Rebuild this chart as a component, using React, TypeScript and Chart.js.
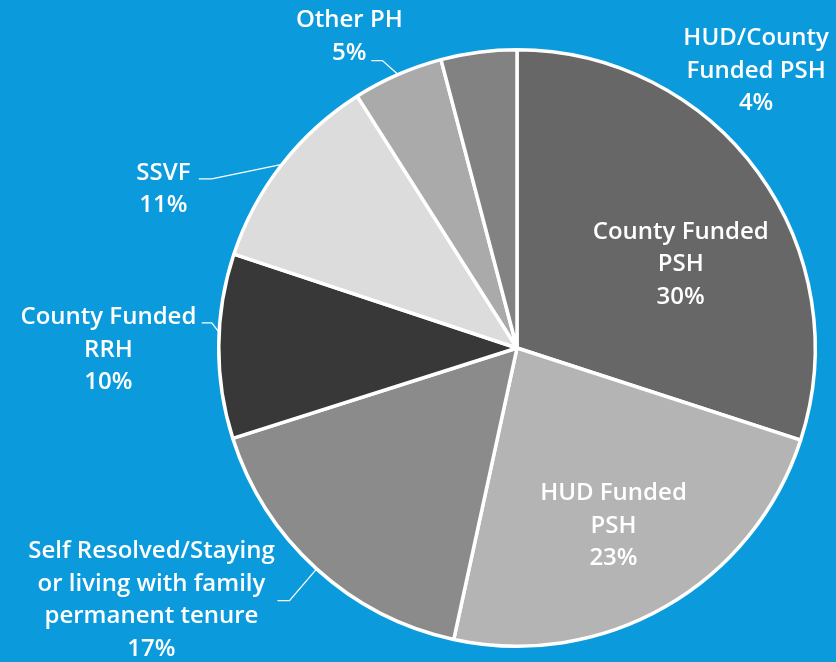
import React, { useEffect, useRef } from "react";
import { Chart, registerables } from "chart.js";

Chart.register(...registerables);

const categories = [
  "County Funded PSH",
  "HUD Funded PSH",
  "Self Resolved/Staying or living with family permanent tenure",
  "County Funded RRH",
  "SSVF",
  "Other PH",
  "HUD/County Funded PSH",
];
const values = [30.0, 23.4, 16.7, 10.0, 10.9, 4.9, 4.1];
const labelLines = [
  ["County Funded", "PSH"],
  ["HUD Funded", "PSH"],
  ["Self Resolved/Staying", "or living with family", "permanent tenure"],
  ["County Funded", "RRH"],
  ["SSVF"],
  ["Other PH"],
  ["HUD/County", "Funded PSH"],
];
const sliceColors = ["#676767", "#b4b4b4", "#8b8b8b", "#383838", "#dcdcdc", "#aaaaaa", "#828282"];

// label placement: text block centre in polar terms (deg, fraction of radius);
// optional leader: edge angle, elbow (deg, fraction), horizontal run length
type Placement = {
  a: number;
  r: number;
  leader?: { edge: number; elbowA: number; elbowR: number; run: number };
};
const placements: Placement[] = [
  { a: -27, r: 0.616 },
  { a: 61.5, r: 0.678 },
  { a: 145.4, r: 1.489, leader: { edge: 132.2, elbowA: 132, elbowR: 1.14, run: 12 } },
  { a: 179.7, r: 1.37, leader: { edge: 183, elbowA: 184.7, elbowR: 1.027, run: 10 } },
  { a: 204.2, r: 1.3, leader: { edge: 218, elbowA: 209, elbowR: 1.17, run: 13 } },
  { a: 241.7, r: 1.186, leader: { edge: 246.5, elbowA: 244.9, elbowR: 1.064, run: 11 } },
  { a: 310.8, r: 1.227 },
];

const FONT = "600 24px 'Open Sans'";
const LINE_H = 32.5;

const labelPlugin = {
  id: "pieLabels",
  afterDatasetsDraw(chart: any) {
    const meta = chart.getDatasetMeta(0);
    const ctx = chart.ctx as CanvasRenderingContext2D;
    ctx.save();
    ctx.font = FONT;
    ctx.fillStyle = "#ffffff";
    ctx.strokeStyle = "#ffffff";
    ctx.lineWidth = 1.3;
    ctx.textAlign = "center";
    ctx.textBaseline = "middle";
    meta.data.forEach((arc: any, i: number) => {
      const { x, y, outerRadius } = arc.getProps(["x", "y", "outerRadius"], true);
      const p = placements[i];
      const rad = (d: number) => (d * Math.PI) / 180;
      const cx = x + Math.cos(rad(p.a)) * p.r * outerRadius;
      const cy = y + Math.sin(rad(p.a)) * p.r * outerRadius;
      const lines = [...labelLines[i], Math.round(values[i]) + "%"];
      const top = cy - ((lines.length - 1) * LINE_H) / 2;
      lines.forEach((t, k) => ctx.fillText(t, cx, top + k * LINE_H));
      if (p.leader) {
        const L = p.leader;
        const ex = x + Math.cos(rad(L.edge)) * outerRadius;
        const ey = y + Math.sin(rad(L.edge)) * outerRadius;
        const bx = x + Math.cos(rad(L.elbowA)) * L.elbowR * outerRadius;
        const by = y + Math.sin(rad(L.elbowA)) * L.elbowR * outerRadius;
        ctx.beginPath();
        ctx.moveTo(ex, ey);
        ctx.lineTo(bx, by);
        ctx.lineTo(bx - L.run, by);
        ctx.stroke();
      }
    });
    ctx.restore();
  },
};

export default function App() {
  const ref = useRef<HTMLCanvasElement>(null);
  useEffect(() => {
    if (!ref.current) return;
    const chart = new Chart(ref.current, {
      type: "pie",
      data: {
        labels: categories,
        datasets: [
          {
            data: values,
            backgroundColor: sliceColors,
            borderColor: "#ffffff",
            borderWidth: 3.5,
          },
        ],
      },
      options: {
        responsive: false,
        animation: false,
        layout: { padding: { left: 217, right: 19, top: 48, bottom: 14 } },
        plugins: { legend: { display: false }, tooltip: { enabled: false } },
      },
      plugins: [labelPlugin],
    });
    return () => chart.destroy();
  }, []);
  return (
    <div style={{ position: "fixed", left: 0, top: 0, width: 836, height: 662, background: "#0b9bdd" }}>
      <canvas ref={ref} width={836} height={662} />
    </div>
  );
}
